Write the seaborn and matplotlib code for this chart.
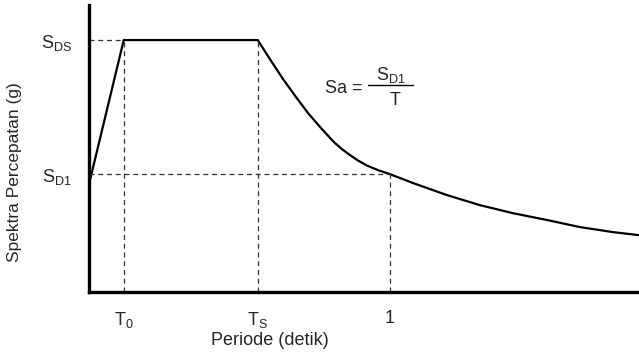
import numpy as np
import pandas as pd
import matplotlib
matplotlib.use('Agg')
import matplotlib.pyplot as plt
import seaborn as sns

# Titik-titik penting spektra (skematik)
T0 = 0.116
TS = 0.561
SDS = 1.0
SD1 = 0.468

# Kurva spektra respons desain
periode = [0.0, T0, TS, 0.601, 0.645, 0.688, 0.728, 0.771, 0.814, 0.841, 0.867,
           0.894, 0.924, 0.960, 1.0, 1.076, 1.189, 1.299, 1.409, 1.522, 1.631,
           1.741, 1.827]
sa = [0.425, SDS, SDS, 0.925, 0.845, 0.774, 0.710, 0.651, 0.595, 0.567, 0.544,
      0.522, 0.502, 0.484, SD1, 0.433, 0.385, 0.345, 0.313, 0.286, 0.258,
      0.238, 0.226]

xtick_pos = [T0, TS, 1.0]
xtick_lbl = [r'$\mathregular{T_0}$', r'$\mathregular{T_S}$', '1']
ytick_pos = [SD1, SDS]
ytick_lbl = [r'$\mathregular{S_{D1}}$', r'$\mathregular{S_{DS}}$']

sns.set_style("white")
plt.rcParams['font.family'] = ['Liberation Sans', 'DejaVu Sans']
plt.rcParams['mathtext.fontset'] = 'custom'
plt.rcParams['mathtext.rm'] = 'Liberation Sans'
plt.rcParams['mathtext.it'] = 'Liberation Sans'

df = pd.DataFrame({'T': periode, 'Sa': sa})

fig = plt.figure(figsize=(6.39, 3.58), dpi=100)
ax = fig.add_axes([0.139, 0.184, 0.861, 0.802])

sns.lineplot(data=df, x='T', y='Sa', color='black', linewidth=1.6, ax=ax, sort=False)

# garis bantu putus-putus
gkw = dict(color='#333333', linestyle=(0, (4, 3)), linewidth=0.9)
ax.plot([0, T0], [SDS, SDS], **gkw)
ax.plot([0, 1.0], [SD1, SD1], **gkw)
ax.plot([T0, T0], [0, SDS], **gkw)
ax.plot([TS, TS], [0, SDS], **gkw)
ax.plot([1.0, 1.0], [0, SD1], **gkw)

ax.set_xlim(0, 1.827)
ax.set_ylim(0, 1.139)
ax.set_xticks(xtick_pos)
ax.set_xticklabels(xtick_lbl, fontsize=13)
ax.set_yticks(ytick_pos)
ax.set_yticklabels(ytick_lbl, fontsize=13)
ax.tick_params(axis='x', length=0, pad=13)
ax.tick_params(axis='y', length=0, pad=12)

for s in ['top', 'right']:
    ax.spines[s].set_visible(False)
for s in ['left', 'bottom']:
    ax.spines[s].set_linewidth(2.4)
    ax.spines[s].set_color('black')

ax.set_xlabel('Periode (detik)', fontsize=13)
ax.set_ylabel('Spektra Percepatan (g)', fontsize=12.5)
ax.xaxis.set_label_coords(0.329, -0.139)
ax.yaxis.set_label_coords(-0.122, 0.418)

# rumus Sa = SD1 / T
ax.text(0.784, 0.806, 'Sa =', fontsize=13, ha='left', va='center')
ax.plot([0.927, 1.076], [0.821, 0.821], color='black', linewidth=1.0)
ax.text(1.003, 0.861, r'$\mathregular{S_{D1}}$', fontsize=13, ha='center', va='center')
ax.text(1.017, 0.762, 'T', fontsize=13, ha='center', va='center')

fig.savefig('out.png', dpi=100)
